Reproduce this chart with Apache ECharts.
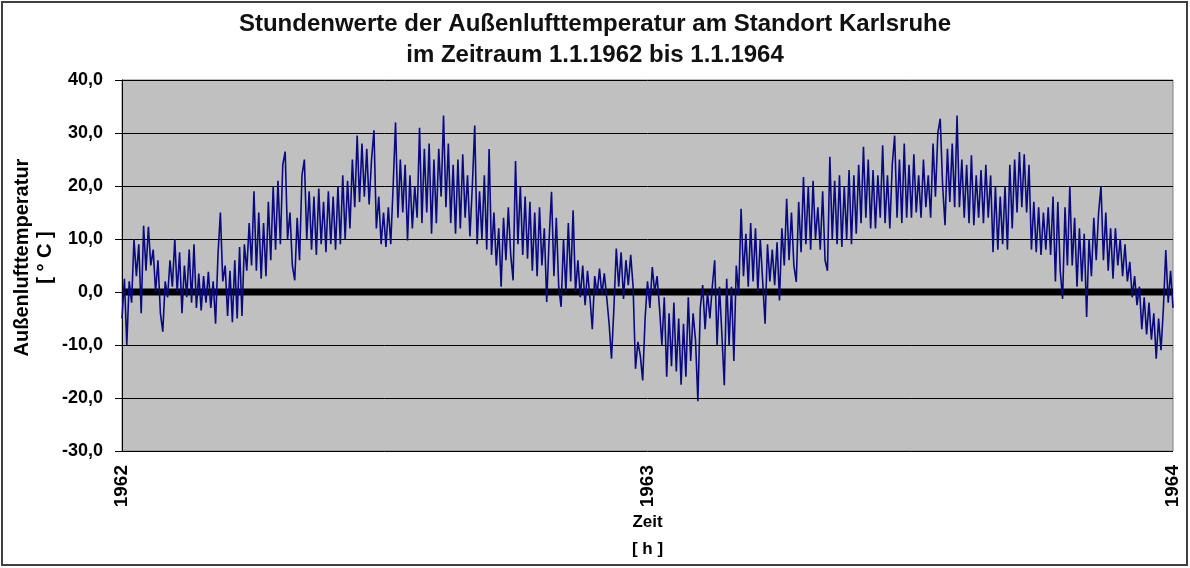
<!DOCTYPE html>
<html>
<head>
<meta charset="utf-8">
<title>Außenlufttemperatur Karlsruhe</title>
<script src="https://cdn.jsdelivr.net/npm/echarts@6/dist/echarts.min.js"></script>
<style>
  html, body { margin: 0; padding: 0; background: #fff; }
  #chart { width: 1190px; height: 568px; }
</style>
</head>
<body>
<div id="chart"></div>
<script>
// Abtastung: ein Wert alle 40 Stunden
var stepHours = 40;
var yearTicks = [0, 8760, 17520];
var yearLabels = ['1962', '1963', '1964'];

// Temperaturen 1962 (Stunde 0 .. 8720)
var temps1962 = [
	-5, 2.5, -10, 2, -2, 10, 3, 9, -4, 12.5,
	4, 12.3, 5, 8, 0, 6, -4, -7.5, 2, -1,
	6, 1, 10, 0, 7.5, -4, 5, -1, 8, -2,
	9, -3, 3.5, -3.5, 3, -2, 3.8, -3, 2, -6,
	7, 15, 2, 5, -4.5, 4, -5.7, 6, -5, 8.5,
	-4.5, 9, 4, 13, 5, 19, 4, 15, 2.5, 13,
	3, 17, 6, 20, 8, 21, 9, 24, 26.5, 10,
	15, 5, 2.2, 14, 6, 22, 25, 10, 19, 8,
	18, 7, 19.5, 9, 17, 7.5, 19, 9, 18, 8,
	20, 9, 22, 10, 21, 12, 25, 16, 29.5, 17,
	28, 18, 27, 16.5, 25, 30.5, 12, 18, 9, 15,
	8.5, 16, 9, 20, 32, 14, 25, 15, 24, 9.7,
	22, 12, 20, 14, 31, 13, 27, 15, 28, 11,
	25, 13, 27, 18, 33.3, 16, 28, 13, 24, 11,
	25, 12, 26, 14, 22, 10.5, 20, 31.4, 9, 19,
	10, 22, 8, 27, 7, 15, 5, 12, 1, 14,
	6, 16, 7, 2.2, 24.7, 9, 20, 7, 18, 6.3,
	17, 4, 15, 3, 16, 5, 12, -1.9, 10, 18.9,
	3, 14, 1, -2.8, 10, 0, 13, 2, 15.4, 0,
	6, -1, 5, -2.5, 4, -1, -7, 3, -0.5, 4.4,
	-0.5, 3.5, -1, -6, -12.6, -3, 8.2, 1, 7.5, -1.3,
	6, 1.3, 7, 1, -14.5, -9.4, -12, -16.7, -5
];

// Temperaturen 1963 (Stunde 8760 .. 17520)
var temps1963 = [
	2, -3, 4.7, 0, 3, -3, -10, -1, -16, -4,
	-14, -2, -15, -5, -17.5, -6, -16, -1, -13, -4,
	-9, -20.6, -3, 1.3, -7, 0, -5, 1, 6, -10,
	1, -8, -17.6, 2.5, -10, 1, -13, 5, -0.6, 15.7,
	3, 11, 1, 13, 2, 12, 0, 10, 2, -6,
	9, 2, 8, 1.3, 9.4, -1.6, 12, 5, 17.6, 6,
	15, 5, 1.9, 17, 7.5, 21.7, 9, 20, 8, 21,
	10, 16, 8, 19, 6, 4, 25.5, 10, 21, 9,
	22, 8.5, 20, 10, 23, 9, 22, 11, 24, 13,
	27.4, 14, 25, 12, 23, 12, 22, 14, 27.7, 13,
	22, 12, 24, 29.5, 14, 25, 13, 28, 14, 24,
	14, 26, 15, 22, 14, 25, 16, 22, 14, 28,
	18, 30, 32.7, 20, 12.6, 27, 17, 28, 16, 33.3,
	16, 25, 14, 24, 13, 25.8, 12.6, 22, 14, 23,
	13, 24, 14, 22, 7.5, 20, 8, 18, 9, 20,
	8, 24, 12, 25, 15, 26.4, 16, 26, 15, 24,
	8, 17, 7.5, 16, 7, 15, 8, 16, 7, 18,
	2, 17, 4, -1.3, 16, 5, 20, 5, 14, 1,
	12, 2, 11, -4.7, 10, 3, 14, 6, 15, 20,
	6, 15, 4, 12, 2.5, 12, 5, 10, 3, 9,
	2, 5.7, -1, 3, -2.5, 1, -7, -1, -8, -2,
	-9, -4, -12.6, -5, -11, -3, 7.9, -2, 4, -3
];

var font = "'Liberation Sans', Arial, sans-serif";

// Punkte [Stunde, Temperatur] aufbauen
var points = [];
temps1962.concat(temps1963).forEach(function(t, i) {
	points.push([i * stepHours, t]);
});

var chart = echarts.init(document.getElementById('chart'));

var option = {
	animation: false,
	backgroundColor: '#fff',
	title: {
		text: 'Stundenwerte der Außenlufttemperatur am Standort Karlsruhe\nim Zeitraum 1.1.1962 bis 1.1.1964',
		left: 'center',
		top: 4,
		textStyle: { fontFamily: font, fontSize: 24, fontWeight: 'bold', color: '#111', lineHeight: 31 }
	},
	grid: {
		left: 122, right: 17, top: 80, bottom: 117,
		outerBoundsMode: 'none',
		show: true,
		backgroundColor: '#c0c0c0',
		borderColor: '#808080',
		borderWidth: 1
	},
	xAxis: {
		type: 'value',
		min: 0,
		max: 17520,
		interval: 8760,
		name: 'Zeit\n[ h ]',
		nameLocation: 'middle',
		nameGap: 58,
		nameMoveOverlap: false,
		nameTextStyle: { fontFamily: font, fontSize: 17, fontWeight: 'bold', color: '#000', lineHeight: 27, verticalAlign: 'top' },
		axisLine: { lineStyle: { color: '#808080' } },
		axisTick: { show: false },
		splitLine: { show: false },
		axisLabel: {
			rotate: 90,
			margin: 14,
			fontFamily: font, fontSize: 19, fontWeight: 'bold', color: '#000',
			formatter: function(v) {
				var k = yearTicks.indexOf(v);
				return k >= 0 ? yearLabels[k] : '';
			}
		}
	},
	yAxis: {
		type: 'value',
		min: -30,
		max: 40,
		interval: 10,
		name: 'Außenlufttemperatur\n[ ° C ]',
		nameLocation: 'middle',
		nameRotate: 90,
		nameGap: 65,
		nameMoveOverlap: false,
		nameTextStyle: { fontFamily: font, fontSize: 20, fontWeight: 'bold', color: '#000', lineHeight: 23, padding: [0, 0, 0, 16] },
		axisLine: { show: true, lineStyle: { color: '#000' } },
		axisTick: { show: true, length: 7, lineStyle: { color: '#000' } },
		splitLine: { lineStyle: { color: '#000', width: 1 } },
		axisLabel: {
			margin: 19,
			fontFamily: font, fontSize: 18, fontWeight: 'bold', color: '#000',
			formatter: function(v) { return v.toFixed(1).replace('.', ','); }
		}
	},
	series: [
		{
			// dicke Nulllinie
			name: 'Null',
			type: 'line',
			data: [[0, 0], [17520, 0]],
			symbol: 'none',
			silent: true,
			lineStyle: { color: '#000', width: 7 }
		},
		{
			name: 'Außenlufttemperatur',
			type: 'line',
			data: points,
			symbol: 'none',
			sampling: null,
			lineStyle: { color: '#0a0a80', width: 1.6 }
		}
	],
	graphic: [{
		type: 'rect',
		shape: { x: 2, y: 2, width: 1185, height: 563 },
		style: { fill: null, stroke: '#404040', lineWidth: 2 },
		silent: true
	}]
};

chart.setOption(option);
</script>
</body>
</html>
